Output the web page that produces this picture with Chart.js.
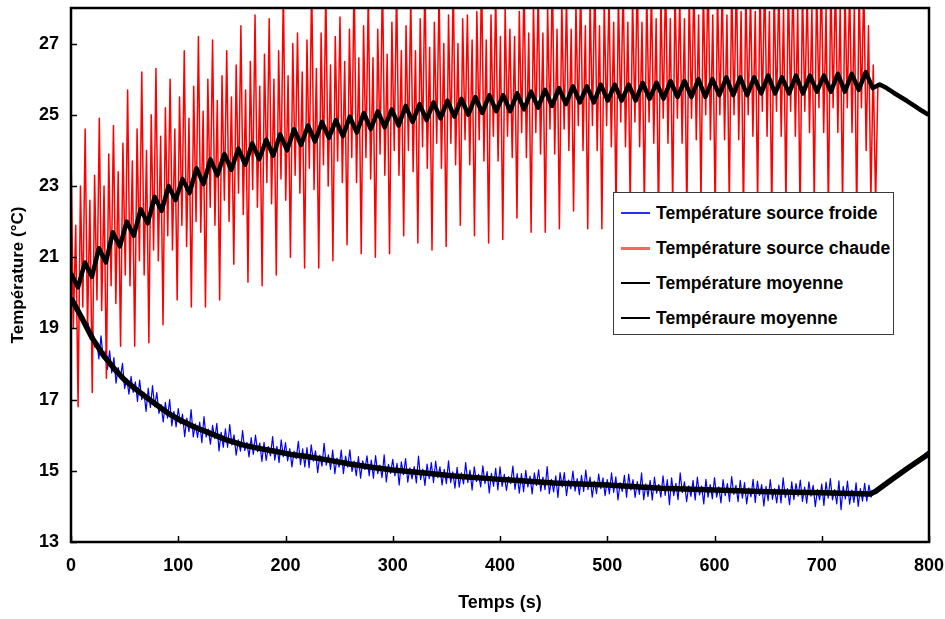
<!DOCTYPE html>
<html lang="fr">
<head>
<meta charset="utf-8">
<title>Températures des sources</title>
<script src="https://cdn.jsdelivr.net/npm/chart.js@4.4.1/dist/chart.umd.min.js"></script>
<style>
  html, body { margin: 0; padding: 0; background: #fff; }
  #wrap { position: relative; width: 945px; height: 619px; }
  #chart { position: absolute; left: 0; top: 0; }
  #legend {
    position: absolute; left: 613px; top: 192px; width: 279px; height: 141px;
    background: #fff; border: 1px solid #3a3a3a;
    font: bold 17.6px "Liberation Sans", Arial, sans-serif; color: #000;
  }
  .row { position: absolute; left: 0; height: 20px; display: flex; align-items: center; white-space: nowrap; }
  .swatch { width: 29px; margin-left: 7px; margin-right: 6px; }
</style>
</head>
<body>
<div id="wrap">
  <canvas id="chart" width="945" height="619"></canvas>
  <div id="legend"></div>
</div>
<script>
// axis ticks
const xTickValues = [0, 100, 200, 300, 400, 500, 600, 700, 800];
const yTickValues = [13, 15, 17, 19, 21, 23, 25, 27];

// hot source, one sample every 2.2 s (6 samples per cycle), then the tail after 750 s
const hotStep = 2.2;
const hotValues = [
  24.0, 19.0, 21.9, 16.8, 23.0, 19.6,   24.6, 18.9, 22.6, 17.2, 23.3, 19.8,
  24.9, 19.5, 23.0, 17.6, 23.9, 20.2,   24.7, 19.7, 23.4, 18.5, 24.2, 20.5,
  25.7, 20.2, 23.7, 18.5, 24.6, 20.9,   26.2, 20.5, 24.0, 18.6, 25.0, 21.2,
  26.3, 20.9, 24.4, 19.1, 25.2, 21.6,   26.0, 21.2, 24.6, 19.8, 25.5, 21.9,
  26.8, 21.3, 24.9, 19.6, 25.8, 22.0,   27.2, 21.7, 25.1, 19.6, 26.0, 22.4,
  27.1, 21.9, 25.4, 19.8, 26.1, 22.6,   26.8, 22.0, 25.5, 20.8, 26.4, 22.8,
  27.5, 22.2, 25.7, 20.3, 26.5, 22.9,   27.8, 22.4, 25.8, 20.2, 26.7, 23.1,
  27.7, 22.5, 26.0, 20.5, 26.8, 23.2,   28.6, 22.6, 26.1, 21.0, 27.0, 23.3,
  27.3, 22.8, 26.2, 20.7, 27.1, 23.5,   28.8, 22.9, 26.3, 20.7, 27.3, 23.6,
  28.5, 23.0, 26.4, 20.9, 27.2, 23.7,   27.75, 23.1, 26.5, 21.35, 27.4, 23.8,
  28.9, 23.1, 26.6, 21.1, 27.5, 23.8,   28.4, 23.2, 26.6, 21.0, 27.4, 23.9,
  29.0, 23.3, 26.7, 21.1, 27.6, 24.0,   28.6, 23.3, 26.8, 21.6, 27.5, 24.0,
  28.3, 23.4, 26.8, 21.4, 27.7, 24.1,   28.9, 23.5, 26.9, 21.2, 27.6, 24.2,
  28.5, 23.5, 27.0, 21.3, 27.8, 24.2,   28.7, 23.6, 27.0, 21.9, 27.7, 24.3,
  27.8, 23.6, 27.1, 21.6, 27.9, 24.3,   29.0, 23.7, 27.1, 21.4, 27.8, 24.4,
  28.4, 23.7, 27.2, 21.5, 28.0, 24.4,   27.4, 23.8, 27.2, 22.1, 27.9, 24.5,
  28.8, 23.8, 27.3, 21.7, 28.1, 24.5,   28.5, 23.9, 27.3, 21.7, 28.0, 24.6,
  29.0, 23.9, 27.4, 21.8, 28.2, 24.6,   28.3, 24.0, 27.4, 22.3, 28.1, 24.7,
  28.7, 24.0, 27.5, 21.8, 28.3, 24.7,   28.9, 24.0, 27.5, 21.8, 28.2, 24.7,
  28.4, 24.1, 27.6, 22.2, 28.4, 24.8,   28.8, 24.1, 27.6, 22.4, 28.3, 24.8,
  29.0, 24.1, 27.6, 22.3, 28.5, 24.8,   28.5, 24.2, 27.7, 22.0, 28.4, 24.9,
  28.9, 24.2, 27.7, 22.4, 28.6, 24.9,   28.3, 24.2, 27.7, 22.1, 28.5, 24.9,
  28.8, 24.3, 27.8, 22.5, 28.6, 25.0,   29.0, 24.3, 27.8, 22.2, 28.5, 25.0,
  28.6, 24.3, 27.8, 22.4, 28.7, 25.0,   28.9, 24.3, 27.9, 22.1, 28.6, 25.0,
  28.4, 24.4, 27.9, 22.5, 28.7, 25.1,   29.0, 24.4, 27.9, 22.2, 28.6, 25.1,
  28.7, 24.4, 28.0, 22.4, 28.8, 25.1,   28.9, 24.4, 28.0, 22.1, 28.6, 25.1,
  28.5, 24.5, 28.0, 22.5, 28.7, 25.2,   29.0, 24.5, 28.0, 22.2, 28.8, 25.2,
  28.8, 24.5, 28.1, 22.4, 28.6, 25.2,   28.6, 24.5, 28.1, 22.1, 28.7, 25.2,
  28.7, 24.0, 27.5, 22.6, 26.4, 22.5,
  25.88, 25.84, 25.8, 25.76, 25.72, 25.68, 25.64, 25.6, 25.56, 25.51, 25.47,
  25.43, 25.39, 25.35, 25.3, 25.26, 25.22, 25.18, 25.14, 25.09, 25.05, 25.01
];

// hot source mean, one sample every 6.5 s (peak / trough)
const hotMeanStep = 6.5;
const hotMeanValues = [
  20.55, 20.15, 20.85, 20.45, 21.25, 20.85, 21.7, 21.3, 22.0, 21.6,
  22.35, 21.95, 22.7, 22.3, 23.0, 22.6, 23.2, 22.8, 23.5, 23.05,
  23.75, 23.3, 23.9, 23.45, 24.05, 23.6, 24.2, 23.75, 24.3, 23.85,
  24.45, 24.0, 24.6, 24.15, 24.7, 24.25, 24.8, 24.35, 24.85, 24.4,
  24.95, 24.5, 25.05, 24.6, 25.1, 24.65, 25.15, 24.7, 25.25, 24.8,
  25.3, 24.85, 25.35, 24.9, 25.4, 24.95, 25.45, 25.0, 25.5, 25.05,
  25.55, 25.1, 25.55, 25.1, 25.6, 25.15, 25.65, 25.2, 25.7, 25.25,
  25.75, 25.3, 25.8, 25.35, 25.8, 25.35, 25.85, 25.4, 25.85, 25.4,
  25.85, 25.4, 25.9, 25.45, 25.9, 25.45, 25.95, 25.5, 25.95, 25.5,
  26.0, 25.5, 26.0, 25.55, 26.05, 25.55, 26.05, 25.55, 26.05, 25.6,
  26.1, 25.6, 26.05, 25.6, 26.1, 25.6, 26.1, 25.65, 26.1, 25.65,
  26.15, 25.65, 26.15, 25.7, 26.2, 25.75, 25.85, 25.75, 25.62, 25.5,
  25.38, 25.25, 25.12, 25.0
];

// cold source, one sample every 2 s
const coldStep = 2;
const coldValues = [
  19.88, 19.69, 19.70, 19.47, 19.50, 19.21, 19.30, 18.96, 19.15, 18.71,
  18.97, 18.48, 18.63, 18.14, 18.79, 18.15, 18.37, 17.85, 18.37, 17.75,
  18.18, 17.46, 17.90, 17.58, 18.02, 17.31, 17.60, 17.15, 17.65, 17.20,
  17.50, 16.95, 17.55, 17.00, 17.21, 16.67, 17.32, 16.78, 17.39, 16.80,
  17.20, 16.61, 16.86, 16.37, 16.92, 16.48, 17.00, 16.26, 16.67, 16.23,
  16.75, 16.32, 16.59, 15.96, 16.48, 16.10, 16.72, 15.95, 16.32, 15.94,
  16.37, 15.79, 16.52, 15.95, 16.17, 15.75, 16.28, 15.90, 16.33, 15.56,
  16.08, 15.66, 16.18, 15.66, 16.30, 15.73, 16.01, 15.44, 15.87, 15.55,
  16.13, 15.57, 15.80, 15.39, 15.93, 15.46, 16.00, 15.54, 15.78, 15.26,
  15.80, 15.29, 15.68, 15.42, 15.96, 15.30, 15.69, 15.23, 15.87, 15.40,
  15.79, 15.28, 15.62, 15.11, 15.55, 15.34, 15.83, 15.17, 15.62, 15.11,
  15.65, 15.09, 15.73, 15.27, 15.56, 14.95, 15.44, 15.13, 15.77, 15.16,
  15.45, 15.04, 15.58, 14.92, 15.36, 15.10, 15.58, 14.92, 15.41, 15.10,
  15.59, 14.98, 15.27, 14.86, 15.40, 14.79, 15.28, 15.03, 15.42, 14.86,
  15.30, 14.79, 15.43, 14.92, 15.16, 14.81, 15.45, 14.69, 15.18, 14.93,
  15.32, 14.86, 15.21, 14.60, 15.25, 14.89, 15.34, 14.68, 15.08, 14.77,
  15.12, 14.66, 15.41, 14.75, 15.05, 14.59, 15.19, 14.78, 15.23, 14.67,
  15.27, 14.81, 15.11, 14.60, 15.04, 14.64, 15.28, 14.67, 14.97, 14.51,
  15.10, 14.54, 14.94, 14.63, 15.23, 14.67, 15.02, 14.46, 15.11, 14.70,
  14.90, 14.55, 15.14, 14.64, 14.98, 14.38, 14.93, 14.57, 15.07, 14.46,
  15.11, 14.56, 14.90, 14.45, 14.84, 14.64, 15.13, 14.48, 14.92, 14.37,
  14.92, 14.41, 15.01, 14.55, 14.85, 14.35, 14.94, 14.59, 15.03, 14.43,
  14.82, 14.47, 15.12, 14.36, 14.76, 14.41, 14.86, 14.25, 14.95, 14.55,
  14.95, 14.30, 14.74, 14.49, 14.99, 14.43, 14.78, 14.33, 14.87, 14.42,
  15.02, 14.47, 14.82, 14.26, 14.71, 14.36, 14.91, 14.50, 14.80, 14.30,
  14.75, 14.35, 14.94, 14.39, 14.83, 14.18, 14.67, 14.42, 14.87, 14.26,
  14.91, 14.46, 14.75, 14.25, 14.70, 14.34, 14.94, 14.19, 14.63, 14.28,
  14.73, 14.18, 14.82, 14.37, 14.62, 14.26, 14.86, 14.31, 14.75, 14.05,
  14.80, 14.30, 14.65, 14.19, 14.94, 14.39, 14.69, 14.13, 14.58, 14.28,
  14.73, 14.18, 14.82, 14.32, 14.57, 14.07, 14.76, 14.26, 14.61, 14.21,
  14.81, 14.26, 14.55, 14.10, 14.75, 14.30, 14.64, 14.14, 14.84, 14.34,
  14.59, 14.13, 14.73, 14.23, 14.67, 14.07, 14.52, 14.27, 14.76, 14.11,
  14.71, 14.31, 14.61, 14.01, 14.56, 14.16, 14.75, 14.20, 14.50, 14.10,
  14.60, 14.10, 14.80, 14.25, 14.50, 14.05, 14.69, 14.19, 14.64, 14.29,
  14.74, 14.14, 14.54, 14.09, 14.69, 14.29, 14.59, 13.99, 14.48, 14.18,
  14.63, 14.03, 14.68, 14.23, 14.78, 14.18, 14.47, 14.07, 14.72, 13.91,
  14.56, 14.21, 14.71, 14.06, 14.46, 14.11, 14.66, 14.00, 14.50, 14.15,
  14.65, 14.15, 14.60, 14.26, 14.43, 14.44, 14.49, 14.52, 14.59, 14.62,
  14.67, 14.71, 14.77, 14.79, 14.85, 14.89, 14.94, 14.97, 15.03, 15.07,
  15.11, 15.16, 15.20, 15.25, 15.28, 15.34, 15.38, 15.42, 15.47, 15.52,
  15.57
];

// cold source mean
const coldMeanTimes = [0, 10, 20, 30, 40, 50, 60, 70, 80, 90, 100, 115, 130, 145, 160, 175, 190,
  205, 220, 240, 260, 280, 300, 330, 360, 390, 420, 450, 500, 550, 600, 650, 700, 745, 750,
  765, 780, 800];
const coldMeanValues = [19.85, 19.3, 18.72, 18.25, 17.88, 17.55, 17.3, 17.07, 16.85, 16.63,
  16.45, 16.23, 16.05, 15.87, 15.73, 15.63, 15.55, 15.46, 15.4, 15.3, 15.19, 15.1, 15.02,
  14.94, 14.85, 14.78, 14.72, 14.66, 14.6, 14.51, 14.46, 14.41, 14.38, 14.35, 14.42,
  14.75, 15.07, 15.48];

const legendLabels = ["Température source froide", "Température source chaude",
  "Température moyenne", "Tempéraure moyenne"];

const FONT = "'Liberation Sans', Arial, sans-serif";

function sampled(step, values) {
  return values.map(function (v, i) { return { x: i * step, y: v }; });
}

function paired(times, values) {
  return values.map(function (v, i) { return { x: times[i], y: v }; });
}

function noScalePadding(scale) {
  scale.paddingTop = 0;
  scale.paddingBottom = 0;
  scale.paddingLeft = 0;
  scale.paddingRight = 0;
}

// inner tick marks and the box round the plot
const framePlugin = {
  id: "frame",
  afterDatasetsDraw: function (chart) {
    const ctx = chart.ctx;
    const area = chart.chartArea;
    const xs = chart.scales.x;
    const ys = chart.scales.y;
    ctx.save();
    ctx.strokeStyle = "#000";
    ctx.lineWidth = 1.5;
    ctx.beginPath();
    xTickValues.forEach(function (v) {
      const px = Math.round(xs.getPixelForValue(v)) + 0.5;
      ctx.moveTo(px, area.bottom);
      ctx.lineTo(px, area.bottom - 6);
    });
    yTickValues.forEach(function (v) {
      const py = Math.round(ys.getPixelForValue(v)) + 0.5;
      ctx.moveTo(area.left, py);
      ctx.lineTo(area.left + 6, py);
    });
    ctx.stroke();
    ctx.lineWidth = 2.5;
    ctx.strokeRect(area.left, area.top, area.right - area.left, area.bottom - area.top);
    ctx.restore();
  }
};

const tickFont = { family: FONT, size: 18, weight: "bold" };
const yTitleFont = { family: FONT, size: 17, weight: "bold" };

new Chart(document.getElementById("chart"), {
  type: "line",
  data: {
    datasets: [
      { label: legendLabels[3], data: paired(coldMeanTimes, coldMeanValues), borderColor: "#000", borderWidth: 5.5 },
      { label: legendLabels[2], data: sampled(hotMeanStep, hotMeanValues), borderColor: "#000", borderWidth: 4.5 },
      { label: legendLabels[1], data: sampled(hotStep, hotValues), borderColor: "#ff0000", borderWidth: 1.5, clip: 0 },
      { label: legendLabels[0], data: sampled(coldStep, coldValues), borderColor: "#0000ff", borderWidth: 1.2 }
    ]
  },
  options: {
    responsive: false,
    animation: false,
    devicePixelRatio: 1,
    parsing: false,
    layout: { padding: { top: 8, right: 16, left: 0, bottom: 0 } },
    elements: { point: { radius: 0 }, line: { tension: 0, borderJoinStyle: "round" } },
    plugins: { legend: { display: false }, tooltip: { enabled: false } },
    scales: {
      x: {
        type: "linear",
        min: 0,
        max: 800,
        afterBuildTicks: function (scale) {
          scale.ticks = xTickValues.map(function (v) { return { value: v }; });
        },
        afterFit: function (scale) { scale.height = 77; noScalePadding(scale); },
        grid: { display: false, drawTicks: false },
        border: { display: false },
        ticks: { font: tickFont, color: "#000", padding: 13, maxRotation: 0 },
        title: { display: true, text: "Temps (s)", font: tickFont, color: "#000", padding: { top: 0, bottom: 5 } }
      },
      y: {
        type: "linear",
        min: 13,
        max: 28,
        afterBuildTicks: function (scale) {
          scale.ticks = yTickValues.map(function (v) { return { value: v }; });
        },
        afterFit: function (scale) { scale.width = 71; noScalePadding(scale); },
        grid: { display: false, drawTicks: false },
        border: { display: false },
        ticks: { font: tickFont, color: "#000", padding: 12 },
        title: { display: true, text: "Température (°C)", font: yTitleFont, color: "#000", padding: { top: 8, bottom: 0 } }
      }
    }
  },
  plugins: [framePlugin]
});

// legend drawn over the plot area, as in the original
const legendColors = ["#2b2bff", "#ff6464", "#000", "#000"];
const legendWidths = [2, 3, 2.5, 2.5];
const legendRowTops = [10, 45, 80, 115];
const legend = document.getElementById("legend");
legendLabels.forEach(function (label, i) {
  const row = document.createElement("div");
  row.className = "row";
  row.style.top = legendRowTops[i] + "px";
  const swatch = document.createElement("span");
  swatch.className = "swatch";
  swatch.style.borderTop = legendWidths[i] + "px solid " + legendColors[i];
  const text = document.createElement("span");
  text.textContent = label;
  row.appendChild(swatch);
  row.appendChild(text);
  legend.appendChild(row);
});
</script>
</body>
</html>
